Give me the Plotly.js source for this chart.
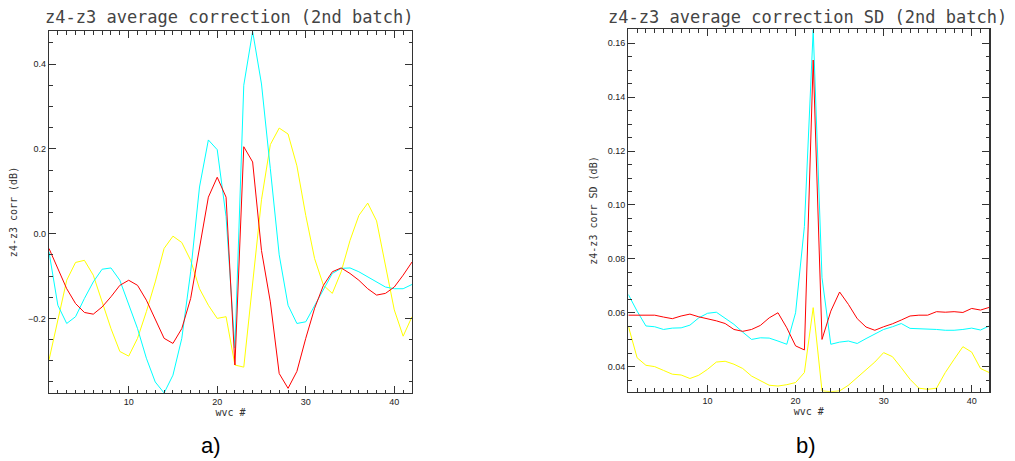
<!DOCTYPE html>
<html>
<head>
<meta charset="utf-8">
<script src="https://cdn.plot.ly/plotly-3.0.1.min.js"></script>
<style>
  html, body { margin: 0; padding: 0; background: #ffffff; }
  #chart { width: 1015px; height: 461px; }
</style>
</head>
<body>
<div id="chart"></div>
<script>
// wvc numbers (x axis)
const wvc = [1,2,3,4,5,6,7,8,9,10,11,12,13,14,15,16,17,18,19,20,21,22,23,24,25,26,27,28,29,30,31,32,33,34,35,36,37,38,39,40,41,42];

// a) z4-z3 average correction (dB)
const corrRed = [-0.035,-0.082,-0.13,-0.165,-0.186,-0.19,-0.173,-0.149,-0.122,-0.11,-0.122,-0.157,-0.204,-0.247,-0.259,-0.224,-0.153,-0.03,0.086,0.133,0.086,-0.31,0.205,0.169,-0.04,-0.161,-0.33,-0.365,-0.325,-0.247,-0.176,-0.122,-0.09,-0.081,-0.094,-0.11,-0.13,-0.145,-0.141,-0.126,-0.098,-0.067];
const corrCyan = [-0.043,-0.169,-0.212,-0.196,-0.153,-0.114,-0.084,-0.081,-0.11,-0.165,-0.224,-0.294,-0.35,-0.376,-0.334,-0.247,-0.09,0.11,0.221,0.198,0.04,-0.27,0.35,0.477,0.353,0.153,-0.05,-0.169,-0.212,-0.208,-0.169,-0.13,-0.094,-0.082,-0.081,-0.09,-0.102,-0.115,-0.126,-0.13,-0.13,-0.12];
const corrYellow = [-0.298,-0.20,-0.11,-0.068,-0.063,-0.098,-0.161,-0.224,-0.278,-0.289,-0.247,-0.184,-0.114,-0.035,-0.006,-0.021,-0.063,-0.13,-0.169,-0.20,-0.196,-0.31,-0.315,-0.11,0.08,0.21,0.249,0.235,0.16,0.043,-0.059,-0.122,-0.141,-0.09,-0.016,0.043,0.072,0.03,-0.075,-0.18,-0.242,-0.196];

// b) z4-z3 average correction SD (dB)
const sdRed = [0.0591,0.0591,0.0591,0.0591,0.0584,0.0578,0.0588,0.0595,0.0585,0.0578,0.057,0.056,0.0538,0.0531,0.0538,0.0553,0.0581,0.060,0.0544,0.0477,0.0462,0.1538,0.0501,0.0606,0.0677,0.0631,0.0578,0.0547,0.0535,0.0548,0.0559,0.0573,0.0588,0.0591,0.0591,0.0604,0.0602,0.0604,0.0601,0.0616,0.061,0.062];
const sdCyan = [0.0668,0.0606,0.0551,0.0548,0.0538,0.0543,0.0544,0.0554,0.0581,0.0598,0.0602,0.0581,0.0557,0.0528,0.0501,0.0507,0.0506,0.0495,0.0483,0.060,0.092,0.165,0.073,0.0483,0.0491,0.0495,0.0486,0.0504,0.052,0.0538,0.0548,0.056,0.0542,0.0541,0.0541,0.0538,0.0535,0.0535,0.0538,0.0543,0.0536,0.0551];
const sdYellow = [0.0551,0.0433,0.0405,0.04,0.0386,0.0372,0.0369,0.0356,0.0368,0.039,0.0417,0.042,0.0409,0.0393,0.0365,0.0347,0.0331,0.0328,0.0333,0.0341,0.0378,0.0619,0.031,0.0307,0.031,0.0331,0.036,0.0388,0.0417,0.0452,0.0437,0.0396,0.0353,0.032,0.0316,0.032,0.0378,0.0427,0.0474,0.0454,0.0393,0.0378];

const titleA = 'z4-z3 average correction (2nd batch)';
const titleB = 'z4-z3 average correction SD (2nd batch)';
const yTitleA = 'z4-z3 corr (dB)';
const yTitleB = 'z4-z3 corr SD (dB)';
const xTitle = 'wvc #';

const W = 1015, H = 461;
const fx = p => p / W;
const fy = p => (H - p) / H;

const lineCol = { red: '#ff0000', cyan: '#00ffff', yellow: '#ffff00' };

function tr(y, col, xa, ya) {
  return { x: wvc, y: y, type: 'scatter', mode: 'lines', xaxis: xa, yaxis: ya,
           line: { color: col, width: 1 }, hoverinfo: 'skip', showlegend: false, cliponaxis: true };
}

const data = [
  tr(corrYellow, lineCol.yellow, 'x', 'y'),
  tr(corrCyan, lineCol.cyan, 'x', 'y'),
  tr(corrRed, lineCol.red, 'x', 'y'),
  tr(sdYellow, lineCol.yellow, 'x2', 'y2'),
  tr(sdCyan, lineCol.cyan, 'x2', 'y2'),
  tr(sdRed, lineCol.red, 'x2', 'y2')
];

const axCol = '#333333';
const monoFam = 'DejaVu Sans Mono, Liberation Mono, monospace';
const tickFont = { family: 'Liberation Sans, Arial, sans-serif', size: 9, color: '#222' };
const titleFont = { family: monoFam, size: 10, color: '#333' };

function xAxis(domain, anchor) {
  return {
    domain: domain, anchor: anchor, range: [1, 42],
    tick0: 0, dtick: 10, ticks: 'inside', ticklen: 7, tickwidth: 1, tickcolor: axCol,
    minor: { dtick: 1, tick0: 0, ticks: 'inside', ticklen: 3.5, tickwidth: 1, tickcolor: axCol },
    showline: true, linecolor: axCol, linewidth: 1.3, mirror: 'ticks',
    showgrid: false, zeroline: false, tickfont: tickFont,
    title: { text: xTitle, font: titleFont, standoff: 2 }
  };
}
function yAxis(domain, anchor, range, dtick, minorDtick, fmt, yTitle) {
  return {
    domain: domain, anchor: anchor, range: range,
    tick0: 0, dtick: dtick, tickformat: fmt, ticks: 'inside', ticklen: 7, tickwidth: 1, tickcolor: axCol,
    minor: { dtick: minorDtick, tick0: 0, ticks: 'inside', ticklen: 3.5, tickwidth: 1, tickcolor: axCol },
    showline: true, linecolor: axCol, linewidth: 1.3, mirror: 'ticks',
    showgrid: false, zeroline: false, tickfont: tickFont,
    title: { text: yTitle, font: titleFont, standoff: 8 }
  };
}

const layout = {
  width: W, height: H,
  margin: { l: 0, r: 0, t: 0, b: 0, pad: 0 },
  paper_bgcolor: '#ffffff', plot_bgcolor: '#ffffff',
  showlegend: false,
  xaxis: xAxis([fx(49), fx(412)], 'y'),
  yaxis: yAxis([fy(393), fy(31)], 'x', [-0.376, 0.478], 0.2, 0.05, '.1f', yTitleA),
  xaxis2: xAxis([fx(628.3), fx(989.3)], 'y2'),
  yaxis2: yAxis([fy(391.7), fy(29.3)], 'x2', [0.0307, 0.1652], 0.02, 0.005, '.2f', yTitleB),
  annotations: [
    { text: titleA, xref: 'paper', yref: 'paper', x: fx(229), y: fy(17), xanchor: 'center', yanchor: 'middle',
      showarrow: false, font: { family: monoFam, size: 17, color: '#444' } },
    { text: titleB, xref: 'paper', yref: 'paper', x: fx(807), y: fy(17), xanchor: 'center', yanchor: 'middle',
      showarrow: false, font: { family: monoFam, size: 17, color: '#444' } },
    { text: 'a)', xref: 'paper', yref: 'paper', x: fx(211), y: fy(445), xanchor: 'center', yanchor: 'middle',
      showarrow: false, font: { family: 'Liberation Sans, Arial, sans-serif', size: 22, color: '#000' } },
    { text: 'b)', xref: 'paper', yref: 'paper', x: fx(806), y: fy(445), xanchor: 'center', yanchor: 'middle',
      showarrow: false, font: { family: 'Liberation Sans, Arial, sans-serif', size: 22, color: '#000' } }
  ]
};

Plotly.newPlot('chart', data, layout, { staticPlot: true, displayModeBar: false });
</script>
</body>
</html>
